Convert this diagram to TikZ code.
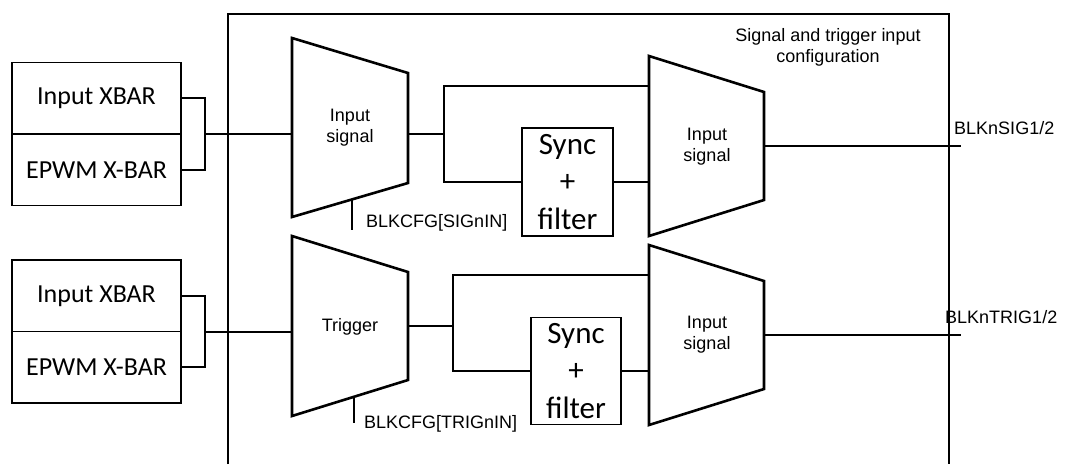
\documentclass[tikz,border=0pt]{standalone}
\usepackage{fontspec}
\setmainfont{Liberation Sans}
\newfontfamily\calibri{Carlito}
\usetikzlibrary{positioning}

\tikzset{
  srcbox/.style={draw, line width=1.8pt, minimum width=169pt, minimum height=71.5pt,
    inner sep=0pt, outer sep=0pt, font=\calibri\fontsize{26}{30}\selectfont},
  syncbox/.style={draw, line width=1.5pt, minimum width=91pt, minimum height=108pt,
    inner sep=0pt, align=center, font=\calibri\fontsize{31}{37.5}\selectfont},
  wire/.style={line width=2pt},
  muxline/.style={line width=2.6pt, line join=miter},
  lbl/.style={font=\fontsize{18}{21}\selectfont, inner sep=0pt, align=center},
}

\begin{document}
\begin{tikzpicture}[x=1pt, y=-1pt]
\useasboundingbox (0,0) rectangle (1070,464);

% === Outer block (open at the bottom) ===
\draw[line width=2.7pt, line join=miter] (228,464) -- (228,14) -- (949,14) -- (949,464);
\node[lbl] (title) at (828,47) {Signal and trigger input\\configuration};

% === Sources ===
\node[srcbox] (xbar1) at (96.5,98.25) {Input XBAR};
\node[srcbox, below=0pt of xbar1] (epwm1) {EPWM X-BAR};
\node[srcbox] (xbar2) at (96.5,295.75) {Input XBAR};
\node[srcbox, below=0pt of xbar2] (epwm2) {EPWM X-BAR};
\coordinate (j1) at (205,134);
\coordinate (j2) at (205,332);

% === Muxes ===
% signal select
\draw[muxline] (292,38) -- (408,73) -- (408,183) -- (292,217) -- cycle;
\node[lbl] (mux1) at (350,127.5) {Input\\signal};
\coordinate (m1in) at (292,134);
\coordinate (m1out) at (408,134);
\coordinate (m1sel) at (352,199.4);
% trigger select
\draw[muxline] (292,236) -- (408,272) -- (408,380) -- (292,416) -- cycle;
\node[lbl] (mux3) at (350,327) {Trigger};
\coordinate (m3in) at (292,332);
\coordinate (m3out) at (408,326);
\coordinate (m3sel) at (354,396.8);
% signal output
\draw[muxline] (649,56) -- (764,92) -- (764,200) -- (649,236) -- cycle;
\node[lbl] (mux2) at (707,147) {Input\\signal};
\coordinate (m2a) at (649,86);
\coordinate (m2b) at (649,182);
\coordinate (m2out) at (764,146);
% trigger output
\draw[muxline] (649,245) -- (764,281) -- (764,389) -- (649,425) -- cycle;
\node[lbl] (mux4) at (707,335) {Input\\signal};
\coordinate (m4a) at (649,275);
\coordinate (m4b) at (649,371);
\coordinate (m4out) at (764,335);

% === Sync + filter ===
\node[syncbox] (sync1) at (567.5,182) {Sync\\+\\filter};
\node[syncbox, minimum width=90pt, minimum height=107pt] (sync2) at (576,371) {Sync\\+\\filter};

% === Wiring ===
\draw[wire] (xbar1.east) -| (j1) |- (epwm1.east);
\draw[wire] (j1) -- (m1in);
\draw[wire] (xbar2.east) -| (j2) |- (epwm2.east);
\draw[wire] (j2) -- (m3in);

\coordinate (b1) at (444,134);
\draw[wire] (m1out) -- (b1);
\draw[wire] (m2a) -| (b1) |- (sync1.west);
\draw[wire] (sync1.east) -- (m2b);

\coordinate (b2) at (453,326);
\draw[wire] (m3out) -- (b2);
\draw[wire] (m4a) -| (b2) |- (sync2.west);
\draw[wire] (sync2.east) -- (m4b);

% select lines
\coordinate (s1) at (352,230);
\coordinate (s2) at (354,423);
\draw[wire] (m1sel) -- (s1);
\draw[wire] (m3sel) -- (s2);
\node[lbl, anchor=west] (cfg1) at (366,222.5) {BLKCFG[SIGnIN]};
\node[lbl, anchor=west] (cfg2) at (364,423.5) {BLKCFG[TRIGnIN]};

% outputs
\coordinate (o1) at (961,146);
\coordinate (o2) at (961,335);
\draw[wire] (m2out) -- (o1);
\draw[wire] (m4out) -- (o2);
\node[lbl, anchor=west] (sigout) at (954,128) {BLKnSIG1/2};
\node[lbl, anchor=west] (trigout) at (945,317) {BLKnTRIG1/2};
\end{tikzpicture}
\end{document}
